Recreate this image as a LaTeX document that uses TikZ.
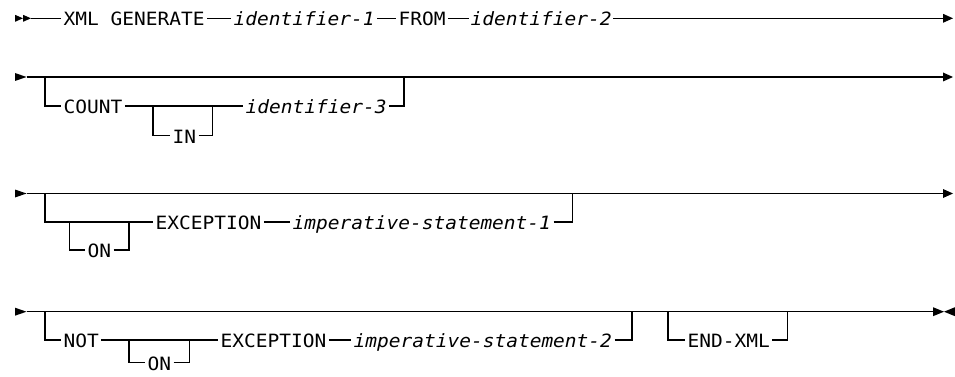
\documentclass[tikz,border=0pt]{standalone}
\usepackage{fontspec}
\usetikzlibrary{calc}
\newfontfamily\rrfont[FakeStretch=1.066]{DejaVu Sans Mono}
\def\up{7.7}
\begin{document}
\begin{tikzpicture}[x=1pt,y=-1pt,line width=1.2pt,
  kw/.style={inner sep=0pt,anchor=base west,font=\rrfont\fontsize{18.3}{20}\selectfont},
  var/.style={kw,font=\rrfont\itshape\fontsize{18.3}{20}\selectfont},
  tip/.style={fill=black,draw=none}]
\useasboundingbox (0,0) rectangle (955,377);

% ---------- row 1 ----------
\fill[tip] (15,14.8) -- (23,18.3) -- (15,21.8) -- cycle;
\fill[tip] (23,14.8) -- (31,18.3) -- (23,21.8) -- cycle;
\fill[tip] (943,13.8) -- (953,18.3) -- (943,22.8) -- cycle;
\coordinate (s1) at (31,18.3);
\coordinate (e1) at (943,18.3);
\node[kw]  (xml)  at (63,26)  {XML GENERATE};
\node[var] (id1)  at (233,26) {identifier-1};
\node[kw]  (from) at (398,26) {FROM};
\node[var] (id2)  at (470,26) {identifier-2};
\draw (s1) -- ($(xml.base west)+(-2,-\up)$);
\draw ($(xml.base east)+(2,-\up)$) -- ($(id1.base west)+(-2,-\up)$);
\draw ($(id1.base east)+(2,-\up)$) -- ($(from.base west)+(-2,-\up)$);
\draw ($(from.base east)+(2,-\up)$) -- ($(id2.base west)+(-1,-\up)$);
\draw ($(id2.base east)+(1,-\up)$) -- (e1);

% ---------- row 2 ----------
\fill[tip] (15,73) -- (26.5,77) -- (15,81) -- cycle;
\fill[tip] (943,72.5) -- (953,77) -- (943,81.5) -- cycle;
\coordinate (s2) at (26.5,77);
\coordinate (e2) at (943,77);
\coordinate (b2) at (45,77);
\coordinate (c2) at (404,77);
\coordinate (in1) at (153,106);
\coordinate (in2) at (212.7,106);
\node[kw]  (count) at (63,113.7)  {COUNT};
\node[kw]  (in)    at (172,143.4) {IN};
\node[var] (id3)   at (245,113.7) {identifier-3};
\draw (s2) -- (e2);
\draw (b2) |- ($(count.base west)+(-2,-\up)$);
\draw ($(count.base east)+(2,-\up)$) -- ($(id3.base west)+(-2,-\up)$);
\draw (in1) |- ($(in.base west)+(-2,-\up)$);
\draw ($(in.base east)+(2,-\up)$) -| (in2);
\draw ($(id3.base east)+(2,-\up)$) -| (c2);

% ---------- row 3 ----------
\fill[tip] (15,189.5) -- (26.5,193.5) -- (15,197.5) -- cycle;
\fill[tip] (943,189) -- (953,193.5) -- (943,198) -- cycle;
\coordinate (s3) at (26.5,193.5);
\coordinate (e3) at (943,193.5);
\coordinate (b3) at (45,193.5);
\coordinate (c3) at (572.7,193.5);
\coordinate (on1a) at (69.3,222);
\coordinate (on1b) at (129,222);
\node[kw]  (on1)  at (87,257.7)  {ON};
\node[kw]  (exc1) at (155,229.7) {EXCEPTION};
\node[var] (imp1) at (292,229.7) {imperative-statement-1};
\draw (s3) -- (e3);
\draw (b3) |- ($(exc1.base west)+(-2,-\up)$);
\draw (on1a) |- ($(on1.base west)+(-2,-\up)$);
\draw ($(on1.base east)+(2,-\up)$) -| (on1b);
\draw ($(exc1.base east)+(2,-\up)$) -- ($(imp1.base west)+(-2,-\up)$);
\draw ($(imp1.base east)+(2,-\up)$) -| (c3);

% ---------- row 4 ----------
\fill[tip] (15,307.7) -- (26.5,311.7) -- (15,315.7) -- cycle;
\fill[tip] (933,307.2) -- (944,311.7) -- (933,316.2) -- cycle;
\fill[tip] (955,307.2) -- (944,311.7) -- (955,316.2) -- cycle;
\coordinate (s4) at (26.5,311.7);
\coordinate (e4) at (933,311.7);
\coordinate (b4) at (45,311.7);
\coordinate (c4) at (632,311.7);
\coordinate (b5) at (668,311.7);
\coordinate (c5) at (787.7,311.7);
\coordinate (on2a) at (129,339);
\coordinate (on2b) at (189.3,339);
\node[kw]  (not)  at (63,347.7)  {NOT};
\node[kw]  (on2)  at (147,370.5) {ON};
\node[kw]  (exc2) at (220,347.7) {EXCEPTION};
\node[var] (imp2) at (353,347.7) {imperative-statement-2};
\node[kw]  (endx) at (687,347.7) {END-XML};
\draw (s4) -- (e4);
\draw (b4) |- ($(not.base west)+(-2,-\up)$);
\draw ($(not.base east)+(2,-\up)$) -- ($(exc2.base west)+(-2,-\up)$);
\draw (on2a) |- ($(on2.base west)+(-2,-\up)$);
\draw ($(on2.base east)+(2,-\up)$) -| (on2b);
\draw ($(exc2.base east)+(2,-\up)$) -- ($(imp2.base west)+(-2,-\up)$);
\draw ($(imp2.base east)+(2,-\up)$) -| (c4);
\draw (b5) |- ($(endx.base west)+(-2,-\up)$);
\draw ($(endx.base east)+(2,-\up)$) -| (c5);
\end{tikzpicture}
\end{document}
